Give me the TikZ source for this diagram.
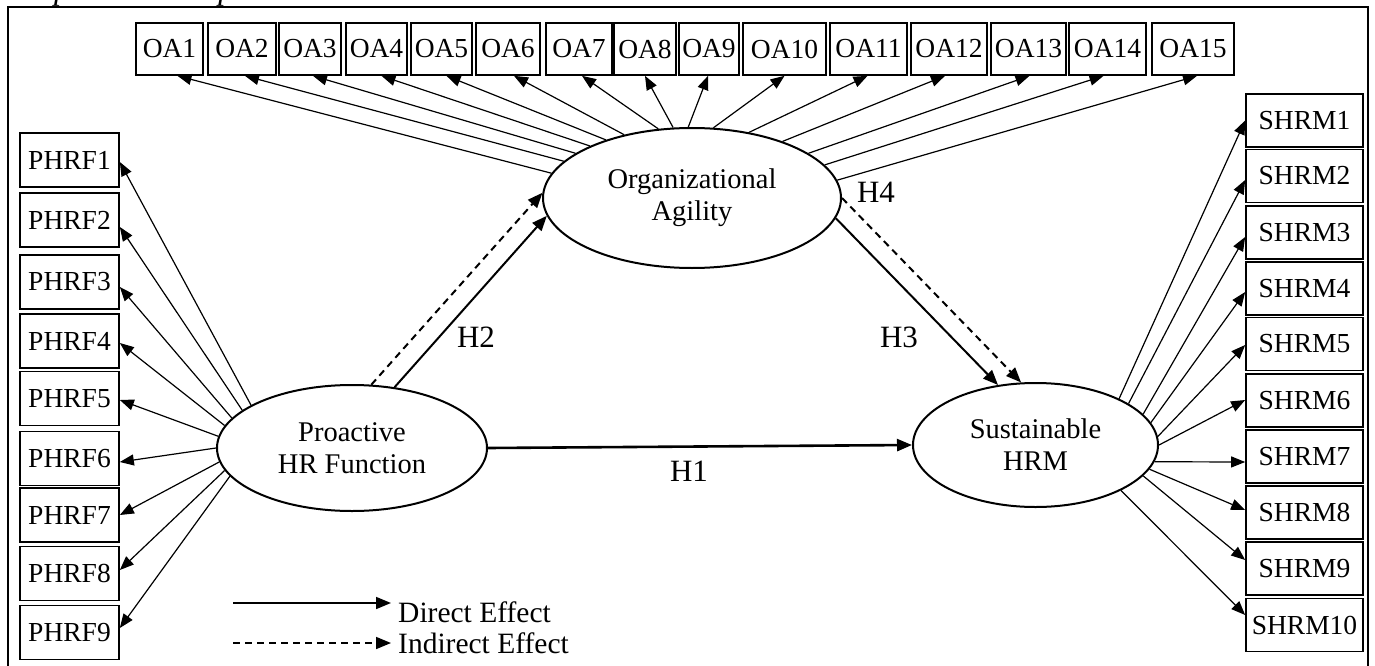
\documentclass[tikz,border=0pt]{standalone}
\usepackage{fontspec}
\setmainfont{Liberation Serif}
\usetikzlibrary{arrows.meta,shapes.geometric,calc}
\begin{document}
\begin{tikzpicture}[x=1pt,y=-1pt,
  ind/.style={draw, line width=1.7pt, inner sep=0pt, minimum height=52pt, font=\fontsize{27.5}{30}\selectfont},
  lat/.style={draw, ellipse, line width=2pt, inner sep=0pt, align=center, font=\fontsize{28.5}{32}\selectfont},
  conn/.style={line width=1.2pt, -{Triangle[length=14pt,width=11pt]}},
  mainarr/.style={line width=2pt, -{Triangle[length=15pt,width=12pt]}},
  indarr/.style={mainarr, dash pattern=on 7pt off 5pt},
  hlab/.style={font=\fontsize{31}{34}\selectfont, inner sep=0pt},
  leg/.style={font=\fontsize{29.5}{33}\selectfont, inner sep=0pt, anchor=base west}]
\useasboundingbox (0,0) rectangle (1375,666);
\fill[white] (0,0) rectangle (1375,666);
% caption (clipped at top)
\node[anchor=base west, inner sep=0pt, font=\itshape\fontsize{32}{36}\selectfont] (cap) at (7,-0.5) {Proposed Conceptual Framework};
% frame
\draw[line width=2.3pt] (8,7) rectangle (1368,690);
% latent variables
\node[lat, minimum width=298pt, minimum height=140pt] (org) at (692,198) {Organizational\\Agility};
\node[lat, minimum width=270pt, minimum height=126pt] (pro) at (352,448) {Proactive\\HR Function};
\node[lat, minimum width=245pt, minimum height=124pt] (sus) at (1035.5,445) {Sustainable\\HRM};
% OA indicators
\foreach \n/\cx/\w in {1/169.5/67,2/242/68,3/310/62,4/376.5/61,5/441.5/61,6/508/64,7/579/66,8/645/62,9/709/60,10/784.5/83,11/868.5/77,12/949/76,13/1028.5/75,14/1107.5/77,15/1193/82}
  \node[ind, minimum width=\w pt] (oa\n) at (\cx,49) {OA\n};
% PHRF indicators
\foreach \n/\cy in {1/160,2/220,3/282,4/341,5/398.5,6/458.5,7/515,8/573.5,9/632.5}
  \node[ind, minimum width=99pt, minimum height=54pt] (phrf\n) at (69.5,\cy) {PHRF\n};
% SHRM indicators
\foreach \n/\cy in {1/120.5,2/176,3/232.5,4/288.5,5/344,6/400.5,7/456.5,8/512.5,9/568.5,10/625}
  \node[ind, minimum width=117pt, minimum height=53pt] (shrm\n) at (1304.5,\cy) {SHRM\n};
% OA connectors
\foreach \n/\a/\dx in {1/170/8pt,2/164.8/3pt,3/159.8/3pt,4/153.4/5pt,5/146.8/5pt,6/137.6/6pt,7/116.6/3pt,8/105/0pt,9/93/-1pt,10/73.8/0pt,11/49.8/-1pt,12/32.9/-4pt,13/21.4/1pt,14/14/-4pt,15/7.5/4pt}
  \draw[conn] (org.\a) -- ([xshift=\dx]oa\n.south);
% PHRF connectors
\foreach \n/\a/\dy in {1/157.1/-2pt,2/161.9/-7pt,3/166.1/-5pt,4/170.2/-2pt,5/175.3/-1.5pt,6/180/-3.5pt,7/186.5/0pt,8/190.5/3.5pt,9/193/4.5pt}
  \draw[conn] (pro.\a) -- ([yshift=\dy]phrf\n.east);
% SHRM connectors
\foreach \n/\a/\dy in {1/29.1/0pt,2/24.4/-4pt,3/16.6/-4.5pt,4/11.7/-3.5pt,5/4.7/-1pt,6/-0.9/0.5pt,7/-8.1/-5.5pt,8/-12.3/2.5pt,9/-16.8/8.5pt,10/-28.7/10pt}
  \draw[conn] (sus.\a) -- ([yshift=\dy]shrm\n.west);
% structural paths
\draw[mainarr, line width=2.6pt] (pro.east) -- (sus.west);
\draw[mainarr] (pro.55.7) -- (org.187.2);
\draw[indarr] (pro.73) -- (org.178);
\draw[mainarr] (org.-8) -- (sus.122.7);
\draw[indarr] (org.0.4) -- (sus.103.8);
% labels
\node[hlab] (h1) at (689,471) {H1};
\node[hlab] (h2) at (476,337) {H2};
\node[hlab] (h3) at (899,337) {H3};
\node[hlab] (h4) at (876,192) {H4};
% legend
\coordinate (ls1) at (233,603);
\coordinate (le1) at (391,603);
\coordinate (ls2) at (233,643);
\coordinate (le2) at (391,643);
\draw[mainarr, line width=1.6pt] (ls1) -- (le1);
\draw[indarr, line width=1.6pt] (ls2) -- (le2);
\node[leg] (dir) at (398,622) {Direct Effect};
\node[leg] (indir) at (398,653) {Indirect Effect};
\end{tikzpicture}
\end{document}
